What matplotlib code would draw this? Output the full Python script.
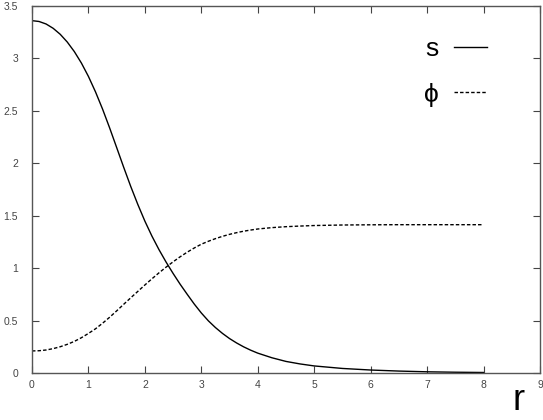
import matplotlib
matplotlib.use("Agg")
import matplotlib.pyplot as plt

# values
r = [0.0, 0.125, 0.25, 0.375, 0.5, 0.625, 0.75, 0.875, 1.0, 1.125, 1.25,
     1.375, 1.5, 1.625, 1.75, 1.875, 2.0, 2.125, 2.25, 2.375, 2.5, 2.625,
     2.75, 2.875, 3.0, 3.125, 3.25, 3.375, 3.5, 3.625, 3.75, 3.875, 4.0,
     4.25, 4.5, 4.75, 5.0, 5.5, 6.0, 6.5, 7.0, 7.5, 8.0]
s = [3.360, 3.352, 3.328, 3.287, 3.230, 3.156, 3.065, 2.956, 2.828, 2.681,
     2.517, 2.338, 2.150, 1.961, 1.778, 1.607, 1.448, 1.305, 1.176, 1.058,
     0.949, 0.846, 0.750, 0.657, 0.572, 0.497, 0.433, 0.377, 0.328, 0.286,
     0.249, 0.217, 0.189, 0.145, 0.110, 0.086, 0.067, 0.043, 0.028, 0.018,
     0.011, 0.007, 0.0045]
phi = [0.210, 0.212, 0.219, 0.232, 0.250, 0.273, 0.301, 0.336, 0.377, 0.421,
       0.474, 0.531, 0.592, 0.655, 0.717, 0.778, 0.839, 0.898, 0.955, 1.009,
       1.060, 1.108, 1.152, 1.192, 1.228, 1.256, 1.281, 1.303, 1.322, 1.338,
       1.352, 1.363, 1.373, 1.386, 1.395, 1.401, 1.406, 1.411, 1.413, 1.414,
       1.414, 1.414, 1.414]
xticks = list(range(0, 10))
yticks = [0, 0.5, 1, 1.5, 2, 2.5, 3, 3.5]
ytick_labels = ["0", "0.5", "1", "1.5", "2", "2.5", "3", "3.5"]

plt.rcParams['font.family'] = ['Liberation Sans', 'DejaVu Sans']

fig = plt.figure(figsize=(5.43, 4.2), dpi=100)
ax = fig.add_axes([0.0589, 0.112, 0.9356, 0.8738])

ax.plot(r, s, color='black', lw=1.0, label='s')
ax.plot(r, phi, color='black', lw=1.0, dashes=(2.5, 1.5), label='\u03d5')

ax.set_xlim(0, 9)
ax.set_ylim(0, 3.5)
ax.set_xticks(xticks)
ax.set_yticks(yticks)
ax.set_yticklabels(ytick_labels)
ax.tick_params(direction='in', top=True, right=True, length=5, width=0.8,
               labelsize=7.5, colors='#444444')
ax.tick_params(axis='x', pad=5)
ax.tick_params(axis='y', pad=10)
for sp in ax.spines.values():
    sp.set_color('#555555')
    sp.set_linewidth(1.0)

leg = ax.legend(loc='upper right', bbox_to_anchor=(0.943, 0.98), frameon=False,
                markerfirst=False, fontsize=19, handlelength=1.25,
                labelspacing=0.82, handletextpad=0.6)

fig.text(0.955, 0.005, 'r', fontsize=26, ha='center', va='bottom')

fig.savefig('out.png', dpi=100)
